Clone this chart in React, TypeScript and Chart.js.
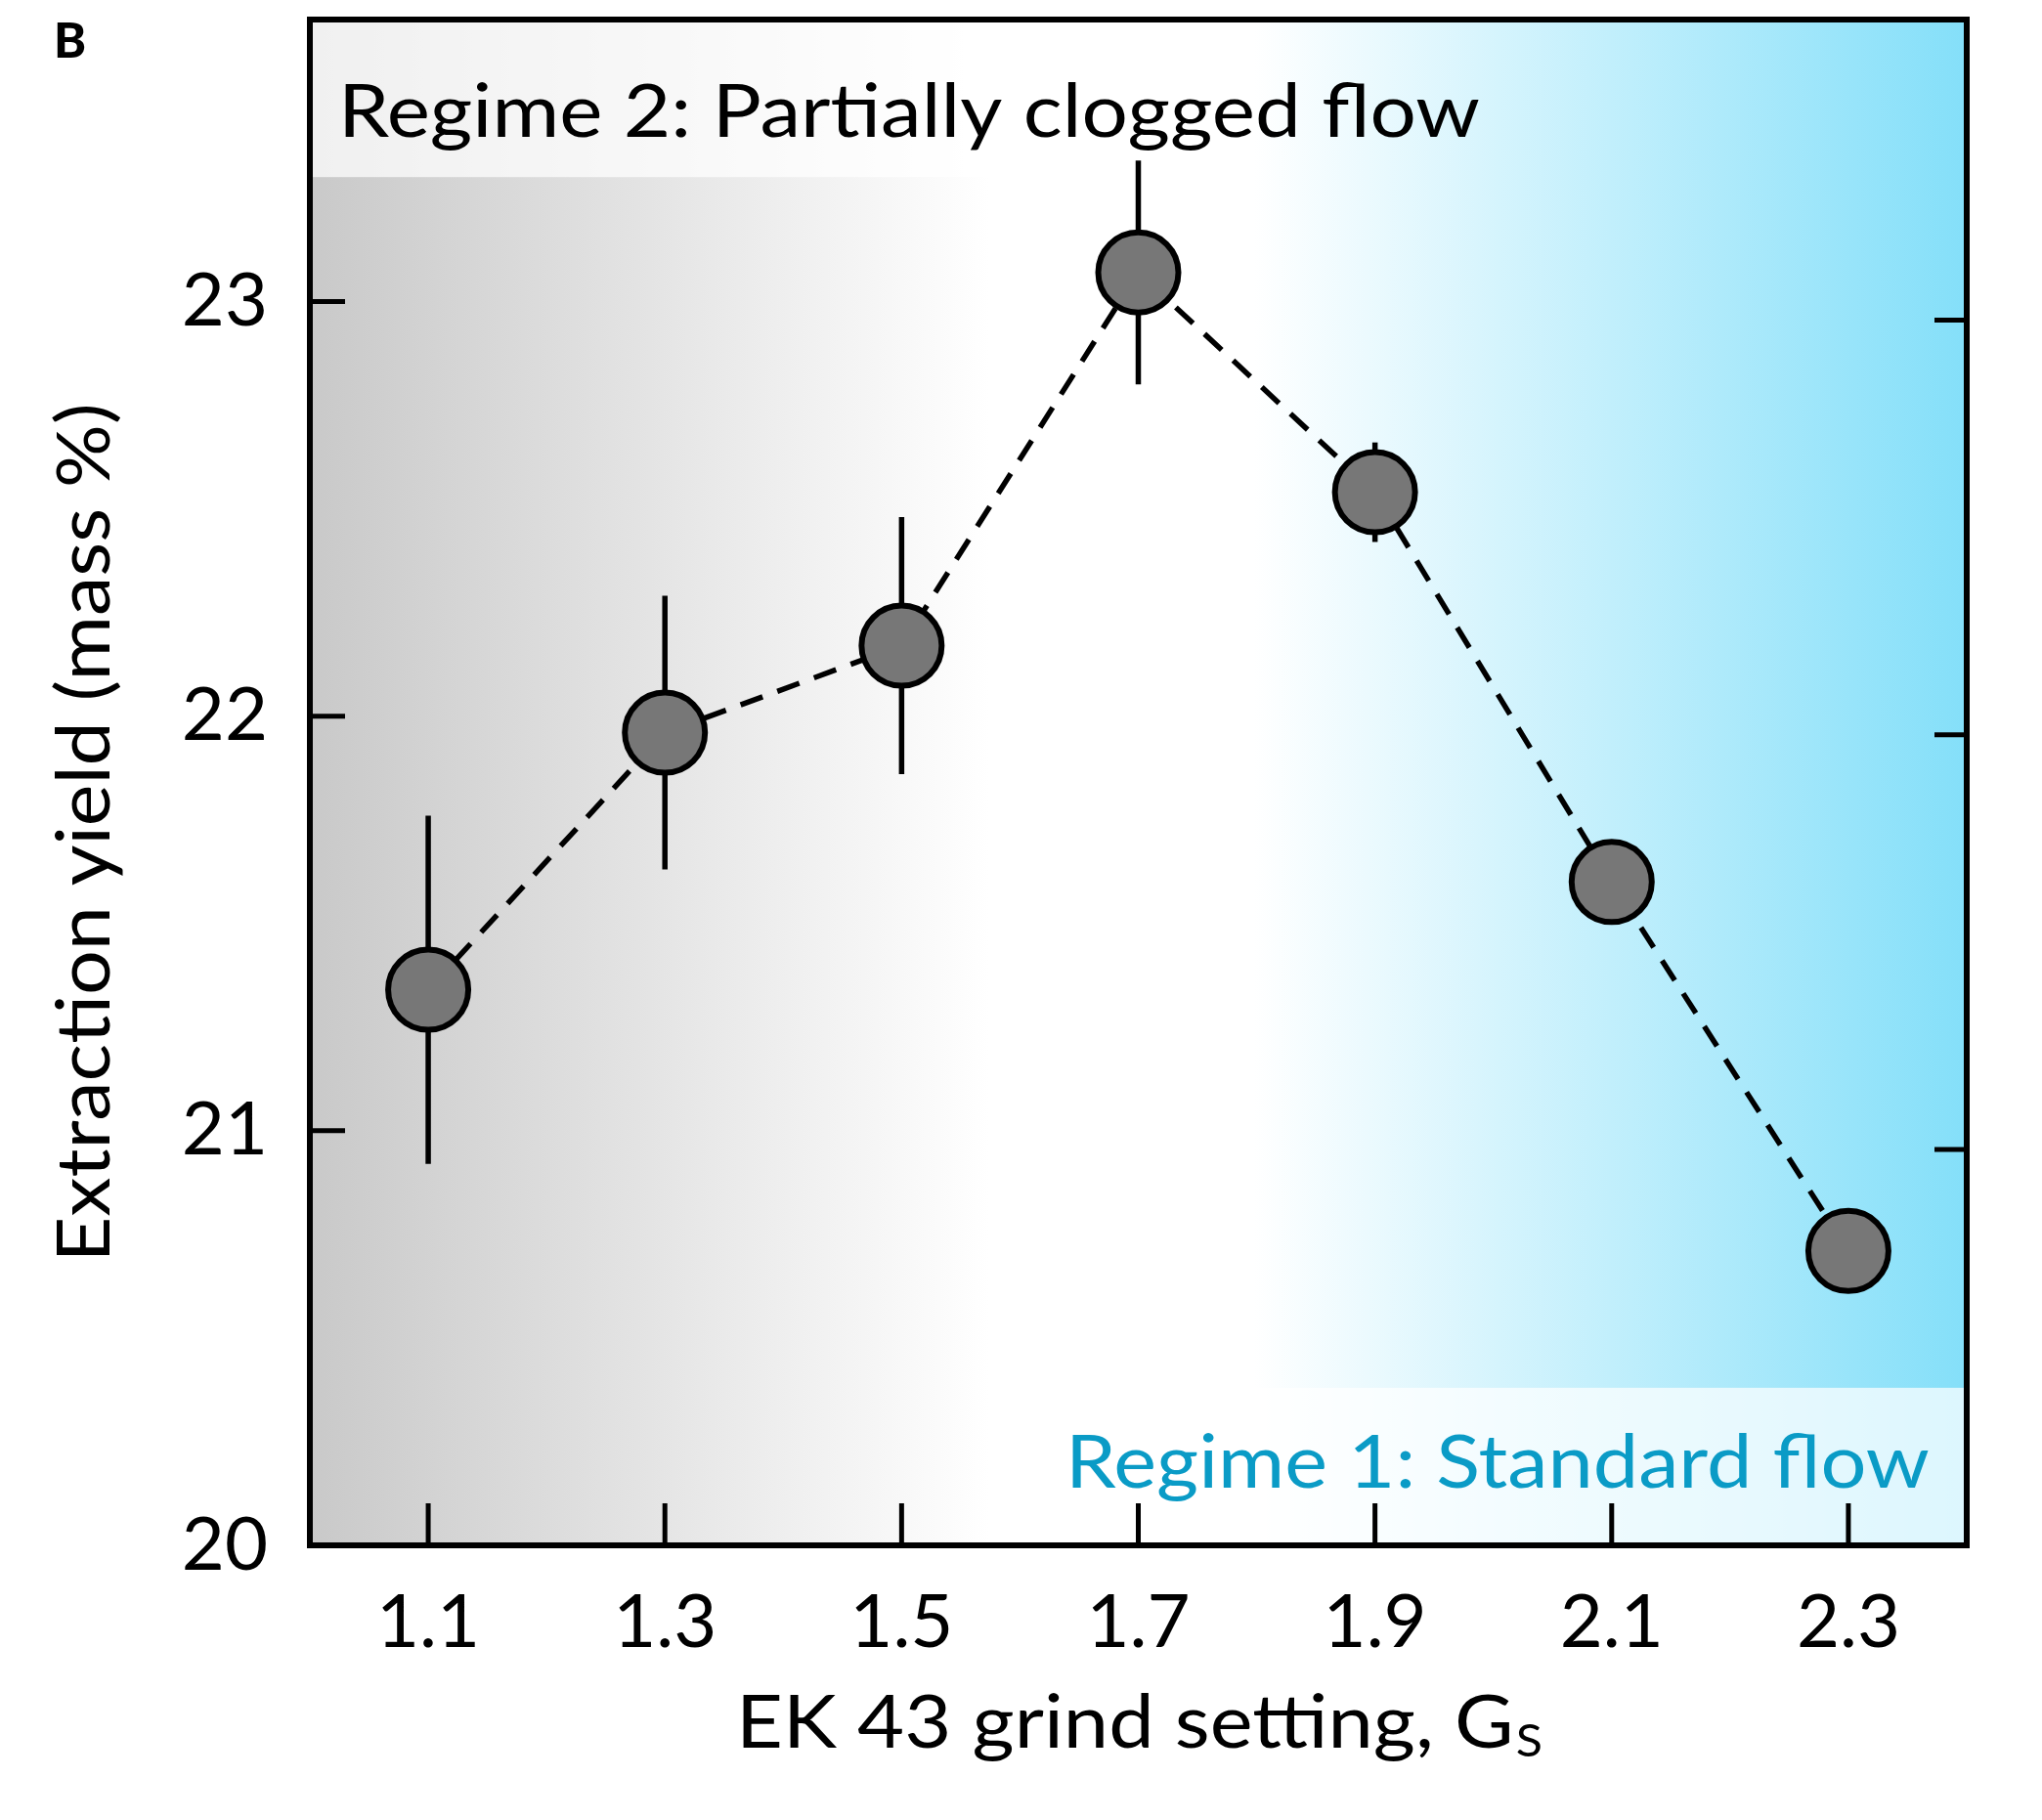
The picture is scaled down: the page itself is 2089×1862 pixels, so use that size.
import { useEffect, useRef } from "react"
import { Chart, registerables } from "chart.js"

Chart.register(...registerables)

const grindSettings = [1.1, 1.3, 1.5, 1.7, 1.9, 2.1, 2.3]
const extractionYield = [21.34, 21.96, 22.17, 23.07, 22.54, 21.6, 20.71]
const yieldError = [0.42, 0.33, 0.31, 0.27, 0.12, 0.07, 0.05]
const xTicks = [1.1, 1.3, 1.5, 1.7, 1.9, 2.1, 2.3]
const yTicks = [20, 21, 22, 23]
const rightTicks = [21, 22, 23]

const FONT = "Lato, 'Open Sans', sans-serif"

// draw text squeezed/stretched horizontally to a given width
function fitText(ctx: CanvasRenderingContext2D, text: string, x: number, y: number, width: number, font: string, align: "left" | "right" | "center") {
  ctx.save()
  ctx.font = font
  const w = ctx.measureText(text).width
  const sx = width / w
  ctx.translate(x, y)
  ctx.scale(sx, 1)
  ctx.textAlign = "left"
  ctx.textBaseline = "alphabetic"
  const start = align === "left" ? 0 : align === "right" ? -w : -w / 2
  ctx.fillText(text, start, 0)
  ctx.restore()
}

const backgroundPlugin = {
  id: "regimeBackground",
  beforeDraw(chart: any) {
    const { ctx, chartArea: a, scales } = chart
    ctx.save()
    const g = ctx.createLinearGradient(a.left, 0, a.right, 0)
    g.addColorStop(0, "#c9c9c9")
    g.addColorStop(0.41, "#ffffff")
    g.addColorStop(0.57, "#ffffff")
    g.addColorStop(1, "#84dff9")
    ctx.fillStyle = g
    ctx.fillRect(a.left, a.top, a.width, a.height)

    const split = scales.x.getPixelForValue(1.66)
    const topBand = scales.y.getPixelForValue(23.3)
    const bottomBand = scales.y.getPixelForValue(20.38)
    ctx.fillStyle = "rgba(255,255,255,0.72)"
    ctx.fillRect(a.left, a.top, split - a.left, topBand - a.top)
    ctx.fillRect(split, bottomBand, a.right - split, a.bottom - bottomBand)
    ctx.restore()
  },
}

const framePlugin = {
  id: "frameAndText",
  afterDraw(chart: any) {
    const { ctx, chartArea: a, scales } = chart
    ctx.save()
    ctx.strokeStyle = "#000"
    ctx.lineCap = "butt"

    // inward ticks
    ctx.lineWidth = 5
    ctx.beginPath()
    yTicks.slice(1).forEach((v) => {
      const py = scales.y.getPixelForValue(v)
      ctx.moveTo(a.left, py)
      ctx.lineTo(a.left + 36, py)
    })
    xTicks.forEach((v) => {
      const px = scales.x.getPixelForValue(v)
      ctx.moveTo(px, a.bottom)
      ctx.lineTo(px, a.bottom - 43)
    })
    rightTicks.forEach((v) => {
      const py = scales.y2.getPixelForValue(v)
      ctx.moveTo(a.right, py)
      ctx.lineTo(a.right - 33, py)
    })
    ctx.stroke()

    // frame
    ctx.lineWidth = 6
    ctx.strokeRect(a.left, a.top, a.width, a.height)

    // panel letter
    ctx.fillStyle = "#000"
    ctx.font = `900 50px ${FONT}`
    ctx.textAlign = "left"
    ctx.textBaseline = "alphabetic"
    ctx.fillText("B", 55, 59)

    // regime labels
    fitText(ctx, "Regime 2: Partially clogged flow", a.left + 29, 140, 1168, `76px ${FONT}`, "left")
    ctx.fillStyle = "#0a9bc6"
    fitText(ctx, "Regime 1: Standard flow", a.right - 38, 1522, 884, `76px ${FONT}`, "right")

    // x title with subscript
    ctx.fillStyle = "#000"
    const mainFont = `76px ${FONT}`
    const subFont = `46px ${FONT}`
    ctx.font = mainFont
    const w1 = ctx.measureText("EK 43 grind setting, G").width
    ctx.font = subFont
    const w2 = ctx.measureText("S").width
    const sx = 825 / (w1 + w2 + 2)
    ctx.save()
    ctx.translate(753, 1788)
    ctx.scale(sx, 1)
    ctx.font = mainFont
    ctx.fillText("EK 43 grind setting, G", 0, 0)
    ctx.font = subFont
    ctx.fillText("S", w1 + 2, 9)
    ctx.restore()

    // y title
    ctx.save()
    ctx.translate(112, 852)
    ctx.rotate(-Math.PI / 2)
    fitText(ctx, "Extraction yield (mass %)", 0, 0, 879, `76px ${FONT}`, "center")
    ctx.restore()

    ctx.restore()
  },
}

export default function App() {
  const canvasRef = useRef<HTMLCanvasElement>(null)

  useEffect(() => {
    document.body.style.margin = "0"
    if (!canvasRef.current) return
    let chart: Chart | null = null
    let cancelled = false

    const build = () => {
      if (cancelled || !canvasRef.current) return
      const ctx = canvasRef.current.getContext("2d")
      if (!ctx) return

      const points = grindSettings.map((x, i) => ({ x, y: extractionYield[i] }))
      const errorBars = grindSettings.map((x, i) => ({
        data: [
          { x, y: extractionYield[i] - yieldError[i] },
          { x, y: extractionYield[i] + yieldError[i] },
        ],
        showLine: true,
        borderColor: "#000",
        borderWidth: 5.5,
        pointRadius: 0,
        pointHoverRadius: 0,
      }))

      chart = new Chart(ctx, {
        type: "scatter",
        data: {
          datasets: [
            {
              data: points,
              showLine: true,
              borderColor: "#000",
              borderWidth: 5.5,
              borderDash: [24, 16],
              pointRadius: 41,
              pointHoverRadius: 41,
              pointBackgroundColor: "#777777",
              pointBorderColor: "#000",
              pointBorderWidth: 6,
            },
            ...errorBars,
          ],
        },
        options: {
          animation: false,
          responsive: false,
          devicePixelRatio: 1,
          events: [],
          // point size would otherwise add its own padding round the plot
          layout: { autoPadding: false, padding: { top: 20, right: 77, left: 0, bottom: 0 } },
          plugins: {
            legend: { display: false },
            tooltip: { enabled: false },
          },
          scales: {
            x: {
              type: "linear",
              position: "bottom",
              min: 1.0,
              max: 2.4,
              afterBuildTicks: (s: any) => {
                s.ticks = xTicks.map((value) => ({ value }))
              },
              afterFit: (s: any) => {
                s.height = 281
              },
              grid: { display: false },
              border: { display: false },
              ticks: {
                color: "#000",
                font: { family: FONT, size: 76 },
                padding: 26,
                maxRotation: 0,
                autoSkip: false,
                callback: (v: any) => Number(v).toFixed(1),
              },
            },
            y: {
              type: "linear",
              position: "left",
              min: 20,
              max: 23.68,
              afterBuildTicks: (s: any) => {
                s.ticks = yTicks.map((value) => ({ value }))
              },
              afterFit: (s: any) => {
                s.width = 317
                s.paddingTop = 0
                s.paddingBottom = 0
              },
              grid: { display: false },
              border: { display: false },
              ticks: {
                color: "#000",
                font: { family: FONT, size: 76 },
                padding: 35,
                callback: (v: any) => String(v),
              },
            },
            y2: {
              type: "linear",
              position: "right",
              min: 20.045,
              max: 23.725,
              afterFit: (s: any) => {
                s.width = 0
                s.paddingTop = 0
                s.paddingBottom = 0
              },
              grid: { display: false },
              border: { display: false },
              ticks: { display: false },
            },
          },
        },
        plugins: [backgroundPlugin, framePlugin],
      })
    }

    if (document.fonts && document.fonts.load) {
      document.fonts.load(`76px Lato`).then(build, build)
    } else {
      build()
    }

    return () => {
      cancelled = true
      if (chart) chart.destroy()
    }
  }, [])

  return (
    <div style={{ width: 2089, height: 1862 }}>
      <canvas ref={canvasRef} width={2089} height={1862} style={{ display: "block" }} />
    </div>
  )
}
